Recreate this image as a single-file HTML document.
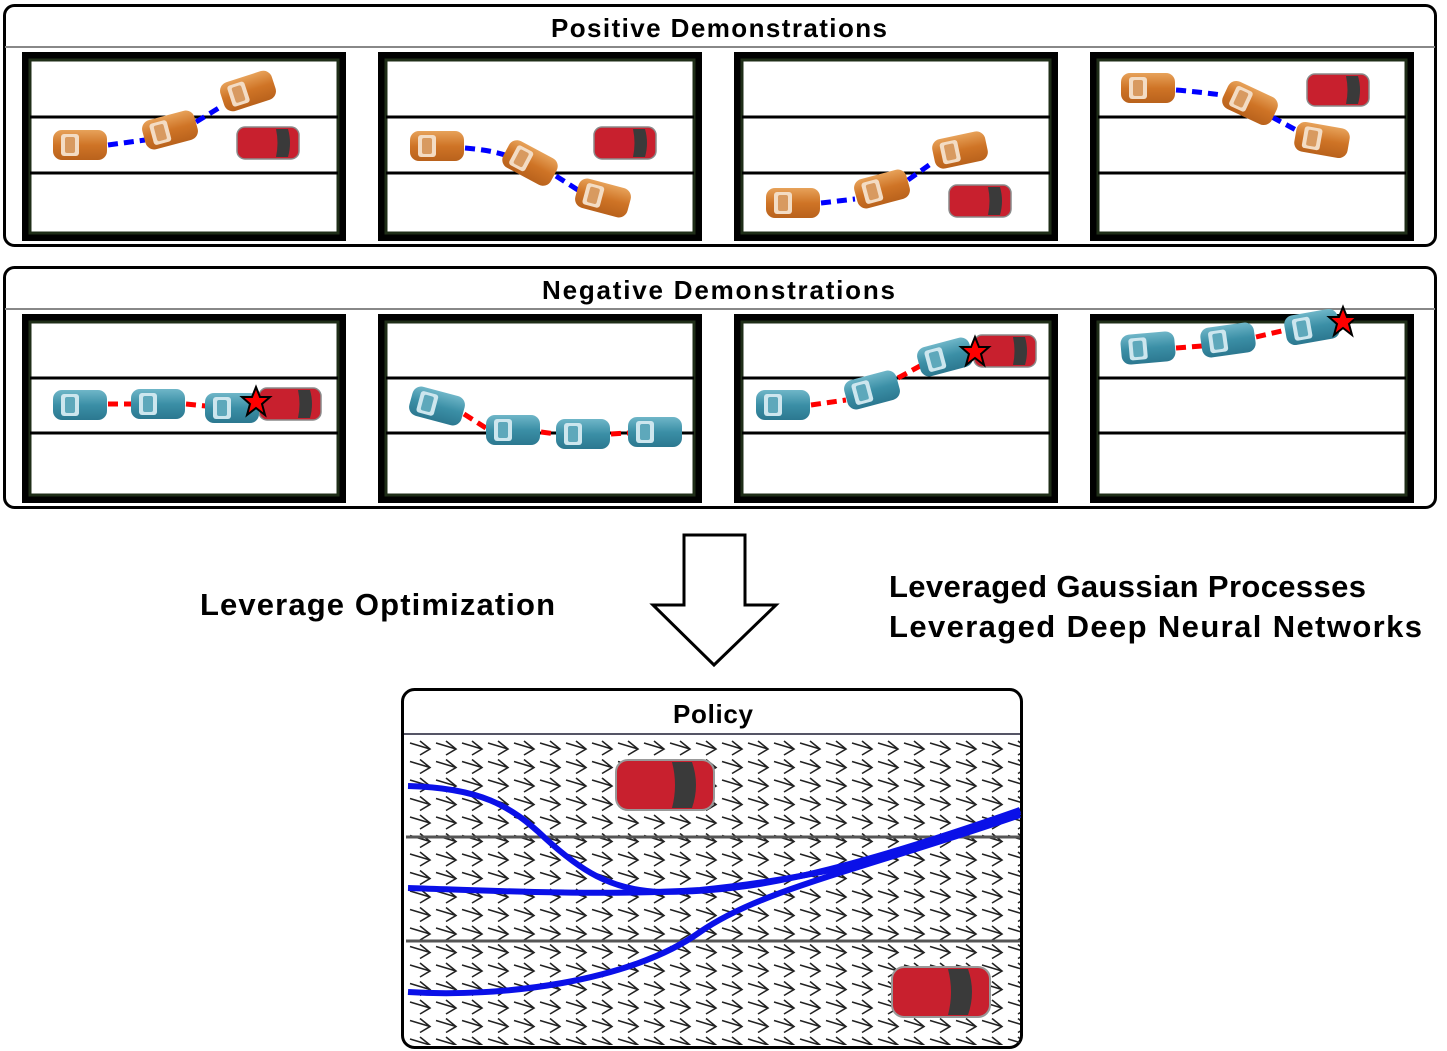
<!DOCTYPE html>
<html><head><style>
body{margin:0;background:#fff;}
svg{display:block;font-family:"Liberation Sans",sans-serif;}
.t{font-weight:bold;font-size:26px;fill:#000}
.b{font-weight:bold;font-size:31px;fill:#000}
</style></head><body>
<svg width="1447" height="1051" viewBox="0 0 1447 1051" xmlns="http://www.w3.org/2000/svg">
<defs>
<linearGradient id="og" x1="0" y1="0" x2="0" y2="1"><stop offset="0" stop-color="#e7a25a"/><stop offset="0.5" stop-color="#cf7426"/><stop offset="1" stop-color="#b9621c"/></linearGradient>
<linearGradient id="bg" x1="0" y1="0" x2="0" y2="1"><stop offset="0" stop-color="#6fb6c8"/><stop offset="0.5" stop-color="#3b8fa6"/><stop offset="1" stop-color="#2c7890"/></linearGradient>
<g id="oc"><rect x="-27" y="-15" width="54" height="30" rx="9" fill="url(#og)"/><rect x="-19" y="-11" width="18" height="22" rx="3" fill="#f3dcc4"/><rect x="-15" y="-8" width="10" height="16" rx="2" fill="#d89a60"/></g>
<g id="bc"><rect x="-27" y="-15" width="54" height="30" rx="9" fill="url(#bg)"/><rect x="-19" y="-11" width="18" height="22" rx="3" fill="#cde6ee"/><rect x="-15" y="-8" width="10" height="16" rx="2" fill="#5ea8bb"/></g>
<g id="rc"><rect x="-31" y="-16" width="62" height="32" rx="8" fill="#c8202e" stroke="#8a8a8a" stroke-width="1.5"/><path d="M8,-14 L20,-14 Q24,0 20,14 L8,14 Q11,0 8,-14Z" fill="#3a3a3a"/></g>
<polygon id="st" points="0,-15 4,-5 14,-5 6,2 9,13 0,6 -9,13 -6,2 -14,-5 -4,-5" fill="#f00" stroke="#000" stroke-width="2"/>
<pattern id="ar" x="408" y="738" width="26" height="18.5" patternUnits="userSpaceOnUse">
<path d="M2,5 L22,11 M12,3 L22,11 L12,17" fill="none" stroke="#222" stroke-width="1.6"/>
</pattern>
<g id="frame"><rect x="4" y="4" width="316" height="181" fill="#fff" stroke="#000" stroke-width="8"/><rect x="8" y="8" width="308" height="173" fill="none" stroke="#1f2e18" stroke-width="3"/></g>
</defs>

<rect x="4.5" y="5.5" width="1431" height="240" rx="10" fill="#fff" stroke="#000" stroke-width="3"/>
<line x1="5" y1="47" x2="1435" y2="47" stroke="#888" stroke-width="2"/>
<text class="t" x="551" y="37" textLength="336" lengthAdjust="spacing">Positive Demonstrations</text>
<use href="#frame" x="22" y="52"/><use href="#frame" x="378" y="52"/><use href="#frame" x="734" y="52"/><use href="#frame" x="1090" y="52"/>
<g stroke="#000" stroke-width="3">
<line x1="30" y1="117" x2="338" y2="117"/><line x1="30" y1="173" x2="338" y2="173"/>
<line x1="386" y1="117" x2="694" y2="117"/><line x1="386" y1="173" x2="694" y2="173"/>
<line x1="742" y1="117" x2="1050" y2="117"/><line x1="742" y1="173" x2="1050" y2="173"/>
<line x1="1098" y1="117" x2="1406" y2="117"/><line x1="1098" y1="173" x2="1406" y2="173"/>
</g>
<g fill="none" stroke="#0000ff" stroke-width="5" stroke-dasharray="10,6">
<path d="M108,145 L145,140 M196,122 L222,106"/>
<path d="M465,148 Q490,150 505,155 M556,176 L578,190"/>
<path d="M821,203 L855,199 M908,180 L932,163"/>
<path d="M1176,90 Q1200,92 1222,95 M1272,117 L1296,130"/>
</g>
<use href="#oc" transform="translate(80,145)"/><use href="#oc" transform="translate(170,130) rotate(-15)"/><use href="#oc" transform="translate(248,91) rotate(-18)"/><use href="#rc" transform="translate(268,143)"/>
<use href="#oc" transform="translate(437,146)"/><use href="#oc" transform="translate(530,163) rotate(28)"/><use href="#oc" transform="translate(603,198) rotate(15)"/><use href="#rc" transform="translate(625,143)"/>
<use href="#oc" transform="translate(793,203)"/><use href="#oc" transform="translate(882,189) rotate(-15)"/><use href="#oc" transform="translate(960,150) rotate(-12)"/><use href="#rc" transform="translate(980,201)"/>
<use href="#oc" transform="translate(1148,88)"/><use href="#oc" transform="translate(1250,103) rotate(25)"/><use href="#oc" transform="translate(1322,140) rotate(10)"/><use href="#rc" transform="translate(1338,90)"/>

<rect x="4.5" y="267.5" width="1431" height="240" rx="10" fill="#fff" stroke="#000" stroke-width="3"/>
<line x1="5" y1="309" x2="1435" y2="309" stroke="#888" stroke-width="2"/>
<text class="t" x="542" y="299" textLength="353" lengthAdjust="spacing">Negative Demonstrations</text>
<use href="#frame" x="22" y="314"/><use href="#frame" x="378" y="314"/><use href="#frame" x="734" y="314"/><use href="#frame" x="1090" y="314"/>
<g stroke="#000" stroke-width="3">
<line x1="30" y1="378" x2="338" y2="378"/><line x1="30" y1="433" x2="338" y2="433"/>
<line x1="386" y1="378" x2="694" y2="378"/><line x1="386" y1="433" x2="694" y2="433"/>
<line x1="742" y1="378" x2="1050" y2="378"/><line x1="742" y1="433" x2="1050" y2="433"/>
<line x1="1098" y1="378" x2="1406" y2="378"/><line x1="1098" y1="433" x2="1406" y2="433"/>
</g>
<g fill="none" stroke="#ff0000" stroke-width="5" stroke-dasharray="10,6">
<path d="M108,404 L132,404 M186,404 L206,406"/>
<path d="M464,414 L486,428 M541,432 L556,434 M611,434 L628,433"/>
<path d="M811,405 L846,400 M898,378 L920,366"/>
<path d="M1176,348 L1202,346 M1256,337 L1286,330"/>
</g>
<use href="#bc" transform="translate(80,405)"/><use href="#bc" transform="translate(158,404)"/><use href="#rc" transform="translate(290,404)"/><use href="#bc" transform="translate(232,408)"/><use href="#st" x="256" y="402"/>
<use href="#bc" transform="translate(437,406) rotate(15)"/><use href="#bc" transform="translate(513,430)"/><use href="#bc" transform="translate(583,434)"/><use href="#bc" transform="translate(655,432)"/>
<use href="#bc" transform="translate(783,405)"/><use href="#bc" transform="translate(872,390) rotate(-15)"/><use href="#rc" transform="translate(1005,351)"/><use href="#bc" transform="translate(945,357) rotate(-15)"/><use href="#st" x="975" y="352"/>
<use href="#bc" transform="translate(1148,348) rotate(-5)"/><use href="#bc" transform="translate(1228,340) rotate(-8)"/><use href="#bc" transform="translate(1312,327) rotate(-10)"/><use href="#st" x="1343" y="322"/>

<polygon points="684,535 745,535 745,605 776,605 714,665 653,605 684,605" fill="#fff" stroke="#000" stroke-width="3"/>
<text class="b" x="200" y="615" textLength="355" lengthAdjust="spacing">Leverage Optimization</text>
<text class="b" x="889" y="597" textLength="477" lengthAdjust="spacing">Leveraged Gaussian Processes</text>
<text class="b" x="889" y="637" textLength="533" lengthAdjust="spacing">Leveraged Deep Neural Networks</text>

<rect x="402.5" y="689.5" width="619" height="358" rx="12" fill="#fff" stroke="#000" stroke-width="3"/>
<text class="t" x="673" y="723" textLength="80" lengthAdjust="spacing">Policy</text>
<line x1="404" y1="734" x2="1020" y2="734" stroke="#556" stroke-width="2"/>
<rect x="406" y="738" width="614" height="307" fill="url(#ar)"/>
<g stroke="#555" stroke-width="3"><line x1="406" y1="837" x2="1020" y2="837"/><line x1="406" y1="941" x2="1020" y2="941"/></g>
<rect x="616" y="760" width="98" height="50" rx="12" fill="#c8202e" stroke="#999" stroke-width="2"/>
<path d="M672,762 L692,762 Q700,785 692,808 L672,808 Q678,785 672,762Z" fill="#3a3a3a"/>
<rect x="892" y="967" width="98" height="50" rx="12" fill="#c8202e" stroke="#999" stroke-width="2"/>
<path d="M948,969 L968,969 Q976,992 968,1015 L948,1015 Q954,992 948,969Z" fill="#3a3a3a"/>
<g fill="none" stroke="#0a10e8" stroke-width="6">
<path d="M408,786 C480,788 510,805 545,838 C580,870 610,890 660,892 C740,892 820,880 1020,810"/>
<path d="M408,888 C500,891 600,896 700,890 C800,880 900,860 1020,812"/>
<path d="M408,992 C500,998 630,982 700,932 C760,890 860,870 1020,815"/>
</g>
</svg>
</body></html>
